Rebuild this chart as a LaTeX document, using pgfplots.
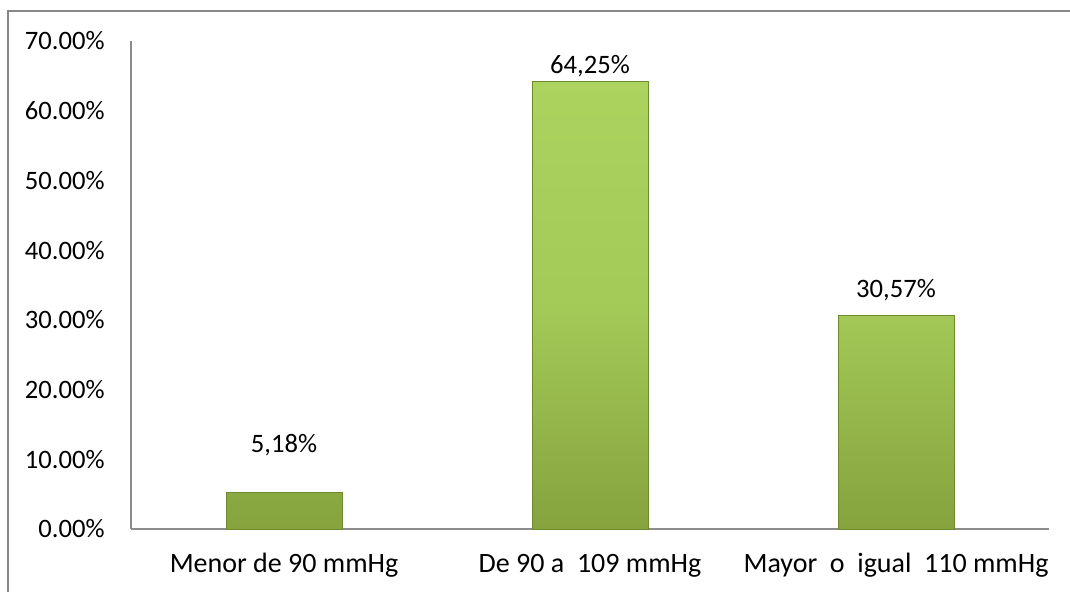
\documentclass[border=0pt]{standalone}
\usepackage{fontspec}
\setmainfont{Carlito}
\usepackage{pgfplots}
\pgfplotsset{compat=1.18}
\usepackage{pgfplotstable}

\definecolor{barlight}{HTML}{ABD35E}
\definecolor{bardark}{HTML}{86A33E}
\definecolor{baredge}{HTML}{6E8A2E}
\definecolor{axisgray}{HTML}{8C8C8C}
\definecolor{framegray}{HTML}{878787}

% share of patients per blood-pressure range (%), with the label lift in pt
\pgfplotstableread{
x val label lift
0 5.18 {5,18\%} 20
1 64.25 {64,25\%} 4
2 30.57 {30,57\%} 9
}\presion

\begin{document}
\begin{tikzpicture}[x=1pt,y=1pt]
\useasboundingbox (-65.5,-31.5) rectangle (469.5,264.5);
% chart frame (left and top edges)
\draw[framegray, line width=1.1pt] (-61.5,-40) -- (-61.5,259) -- (480,259);
\begin{axis}[
  at={(0,0)}, anchor=south west,
  scale only axis, width=459pt, height=244pt,
  xmin=-0.5, xmax=2.5, ymin=0, ymax=70,
  clip=false,
  axis lines=left,
  axis line style={draw=axisgray, line width=0.9pt, -},
  major tick length=0pt,
  ytick={0,10,...,70},
  yticklabel={\pgfmathprintnumber[fixed,fixed zerofill,precision=2]{\tick}\%},
  /pgf/number format/assume math mode=true,
  xtick={0,1,2},
  xticklabels={Menor de 90 mmHg, De 90 a\ \ 109 mmHg, Mayor\ \ o\ \ igual\ \ 110 mmHg},
  ticklabel style={font=\fontsize{13.3pt}{16pt}\selectfont, text=black},
  yticklabel style={anchor=east, inner sep=0pt, xshift=-13pt},
  xticklabel style={anchor=base, inner sep=0pt, yshift=-22pt,
    font=\fontsize{14pt}{16pt}\selectfont},
]
\addplot[ybar, bar width=58pt, top color=barlight, bottom color=bardark,
  middle color=barlight!80!bardark,
  draw=baredge, line width=0.4pt,
  nodes near coords, point meta=explicit symbolic,
  visualization depends on={\thisrow{lift}\as\lift},
  every node near coord/.append style={anchor=base, inner sep=0pt,
    yshift=\lift pt, text=black, font=\fontsize{13.3pt}{16pt}\selectfont}]
  table[x=x, y=val, meta=label]{\presion};
\end{axis}
\end{tikzpicture}
\end{document}
